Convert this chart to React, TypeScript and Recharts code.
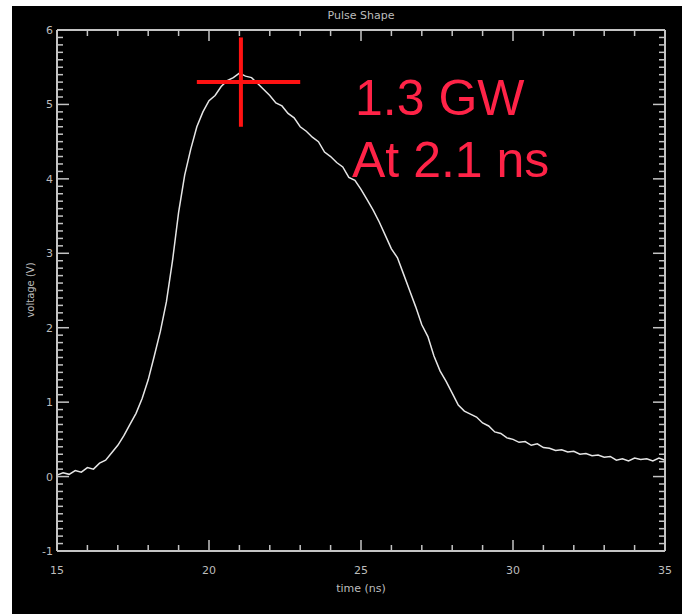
import React from "react";
import {
  LineChart,
  Line,
  XAxis,
  YAxis,
  ReferenceLine,
} from "recharts";

// time (ns)
const TIMES = [
  15.0, 15.2, 15.4, 15.6, 15.8, 16.0, 16.2, 16.4, 16.6, 16.8,
  17.0, 17.2, 17.4, 17.6, 17.8, 18.0, 18.2, 18.4, 18.6, 18.8,
  19.0, 19.2, 19.4, 19.6, 19.8, 20.0, 20.2, 20.4, 20.6, 20.8,
  21.0, 21.2, 21.4, 21.6, 21.8, 22.0, 22.2, 22.4, 22.6, 22.8,
  23.0, 23.2, 23.4, 23.6, 23.8, 24.0, 24.2, 24.4, 24.6, 24.8,
  25.0, 25.2, 25.4, 25.6, 25.8, 26.0, 26.2, 26.4, 26.6, 26.8,
  27.0, 27.2, 27.4, 27.6, 27.8, 28.0, 28.2, 28.4, 28.6, 28.8,
  29.0, 29.2, 29.4, 29.6, 29.8, 30.0, 30.2, 30.4, 30.6, 30.8,
  31.0, 31.2, 31.4, 31.6, 31.8, 32.0, 32.2, 32.4, 32.6, 32.8,
  33.0, 33.2, 33.4, 33.6, 33.8, 34.0, 34.2, 34.4, 34.6, 34.8,
  35.0,
];

// voltage (V)
const VOLTAGES = [
  0.02, 0.05, 0.03, 0.08, 0.06, 0.12, 0.1, 0.18, 0.22, 0.32,
  0.42, 0.55, 0.7, 0.85, 1.05, 1.3, 1.62, 1.95, 2.35, 2.9,
  3.55, 4.05, 4.4, 4.7, 4.9, 5.05, 5.12, 5.24, 5.32, 5.36,
  5.42, 5.38, 5.36, 5.28, 5.2, 5.12, 5.02, 4.98, 4.88, 4.82,
  4.7, 4.64, 4.56, 4.5, 4.36, 4.3, 4.22, 4.16, 4.02, 3.98,
  3.86, 3.72, 3.58, 3.42, 3.24, 3.06, 2.94, 2.72, 2.5, 2.28,
  2.04, 1.88, 1.62, 1.42, 1.28, 1.12, 0.96, 0.88, 0.84, 0.8,
  0.72, 0.68, 0.6, 0.58, 0.52, 0.5, 0.46, 0.47, 0.42, 0.44,
  0.39, 0.38, 0.35, 0.36, 0.33, 0.34, 0.3, 0.31, 0.28, 0.29,
  0.26, 0.27, 0.22, 0.24, 0.21, 0.25, 0.23, 0.24, 0.21, 0.25,
  0.22,
];

const X_TICKS = [
  15, 16, 17, 18, 19, 20, 21, 22, 23, 24, 25, 26, 27, 28, 29, 30, 31, 32, 33,
  34, 35,
];
const X_MAJOR = [15, 20, 25, 30, 35];
const Y_MAJOR = [-1, 0, 1, 2, 3, 4, 5, 6];

// minor y ticks every 0.1 V
const Y_TICKS: number[] = [];
for (let i = -10; i <= 60; i++) Y_TICKS.push(i / 10);

// peak marker (crosshair) and annotation
const PEAK_T = 21.05;
const PEAK_V = 5.3;
const CROSS_T = [19.6, 23.0];
const CROSS_V = [4.7, 5.9];
const NOTE = ["1.3 GW", "At 2.1 ns"];

const data = TIMES.map((t, i) => ({ t, v: VOLTAGES[i] }));

const AXIS = "#c4c4c4";
const LABEL = "#bdbdbd";
const RED = "#ff1212";
const PINK = "#ff2347";
const FONT = "'DejaVu Sans', sans-serif";

const isMajor = (v: number, majors: number[]) =>
  majors.some((m) => Math.abs(m - v) < 1e-6);

const BottomTick = (props: any) => {
  const { x, y, payload } = props;
  const major = isMajor(payload.value, X_MAJOR);
  return (
    <g>
      <line x1={x} x2={x} y1={y} y2={y - (major ? 11 : 6)} stroke={AXIS} strokeWidth={1.5} />
      {major ? (
        <text x={x} y={y + 23} textAnchor="middle" fill={LABEL} fontSize={11} fontFamily={FONT}>
          {payload.value}
        </text>
      ) : null}
    </g>
  );
};

const TopTick = (props: any) => {
  const { x, y, payload } = props;
  const major = isMajor(payload.value, X_MAJOR);
  return (
    <line x1={x} x2={x} y1={y} y2={y + (major ? 11 : 6)} stroke={AXIS} strokeWidth={1.5} />
  );
};

const LeftTick = (props: any) => {
  const { x, y, payload } = props;
  const major = isMajor(payload.value, Y_MAJOR);
  return (
    <g>
      <line x1={x} x2={x + (major ? 12 : 6)} y1={y} y2={y} stroke={AXIS} strokeWidth={1.5} />
      {major ? (
        <text x={x - 4} y={y + 4} textAnchor="end" fill={LABEL} fontSize={11} fontFamily={FONT}>
          {Math.round(payload.value)}
        </text>
      ) : null}
    </g>
  );
};

const RightTick = (props: any) => {
  const { x, y, payload } = props;
  const major = isMajor(payload.value, Y_MAJOR);
  return (
    <line x1={x} x2={x - (major ? 12 : 6)} y1={y} y2={y} stroke={AXIS} strokeWidth={1.5} />
  );
};

export default function App() {
  return (
    <div
      style={{
        position: "absolute",
        left: 0,
        top: 0,
        width: 688,
        height: 614,
        background: "#fff",
      }}
    >
      <div style={{ position: "absolute", left: 12, top: 6 }}>
        <LineChart
          width={670}
          height={608}
          data={data}
          margin={{ top: 14, right: 7, bottom: 33, left: 15 }}
          style={{ background: "#000" }}
        >
          <XAxis
            dataKey="t"
            type="number"
            domain={[15, 35]}
            ticks={X_TICKS}
            interval={0}
            height={30}
            tickSize={0}
            tickMargin={0}
            stroke={AXIS}
            strokeWidth={2}
            tick={<BottomTick />}
          />
          <XAxis
            xAxisId="top"
            dataKey="t"
            orientation="top"
            type="number"
            domain={[15, 35]}
            ticks={X_TICKS}
            interval={0}
            height={10}
            tickSize={0}
            tickMargin={0}
            stroke={AXIS}
            strokeWidth={2}
            tick={<TopTick />}
          />
          <YAxis
            type="number"
            domain={[-1, 6]}
            ticks={Y_TICKS}
            interval={0}
            width={30}
            tickSize={0}
            tickMargin={0}
            stroke={AXIS}
            strokeWidth={2}
            tick={<LeftTick />}
          />
          <YAxis
            yAxisId="right"
            orientation="right"
            type="number"
            domain={[-1, 6]}
            ticks={Y_TICKS}
            interval={0}
            width={10}
            tickSize={0}
            tickMargin={0}
            stroke={AXIS}
            strokeWidth={2}
            tick={<RightTick />}
          />
          {/* invisible twin so the mirrored top/right axes are drawn */}
          <Line
            xAxisId="top"
            yAxisId="right"
            dataKey="v"
            stroke="none"
            dot={false}
            activeDot={false}
            isAnimationActive={false}
          />
          <Line
            dataKey="v"
            type="linear"
            stroke="#e6e6e6"
            strokeWidth={1.5}
            dot={false}
            isAnimationActive={false}
          />
          <ReferenceLine
            segment={[
              { x: PEAK_T, y: CROSS_V[0] },
              { x: PEAK_T, y: CROSS_V[1] },
            ]}
            stroke={RED}
            strokeWidth={4}
          />
          <ReferenceLine
            segment={[
              { x: CROSS_T[0], y: PEAK_V },
              { x: CROSS_T[1], y: PEAK_V },
            ]}
            stroke={RED}
            strokeWidth={4}
          />
          <text x={349} y={13} textAnchor="middle" fill={LABEL} fontSize={11} fontFamily={FONT}>
            Pulse Shape
          </text>
          <text x={349} y={586} textAnchor="middle" fill={LABEL} fontSize={11} fontFamily={FONT}>
            time (ns)
          </text>
          <text
            x={22}
            y={284}
            textAnchor="middle"
            fill={LABEL}
            fontSize={10}
            fontFamily={FONT}
            transform="rotate(-90 22 284)"
          >
            voltage (V)
          </text>
          <text x={343} y={109} fill={PINK} fontSize={50} fontFamily="'Liberation Sans', Arial, sans-serif">
            {NOTE[0]}
          </text>
          <text x={340} y={171} fill={PINK} fontSize={50} fontFamily="'Liberation Sans', Arial, sans-serif">
            {NOTE[1]}
          </text>
        </LineChart>
      </div>
    </div>
  );
}
